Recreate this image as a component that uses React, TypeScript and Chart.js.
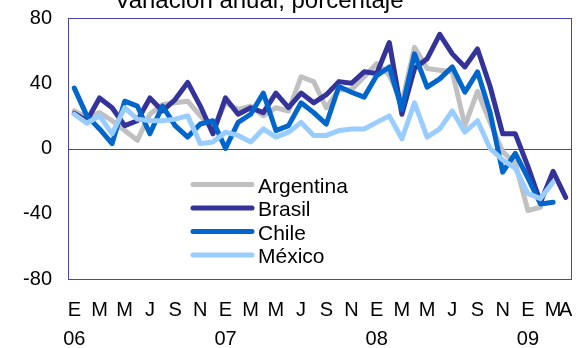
import React, { useEffect, useRef } from "react";
import { Chart, registerables } from "chart.js";

Chart.register(...registerables);

const monthLabels = [
  "E", "", "M", "", "M", "", "J", "", "S", "", "N", "",
  "E", "", "M", "", "M", "", "J", "", "S", "", "N", "",
  "E", "", "M", "", "M", "", "J", "", "S", "", "N", "",
  "E", "", "M", "A",
];
const yearLabels = [
  "06", "", "", "", "", "", "", "", "", "", "", "",
  "07", "", "", "", "", "", "", "", "", "", "", "",
  "08", "", "", "", "", "", "", "", "", "", "", "",
  "09", "", "", "",
];

const seriesNames = ["Argentina", "Brasil", "Chile", "México"];

const argentina = [
  23, 19, 22, 17, 11, 5, 21, 27, 28, 29, 20, 12,
  28, 24, 26, 20, 25, 23, 44, 41, 25, 36, 36, 44,
  52, 45, 28, 62, 49, 48, 47, 14, 35, 16, -2, -9,
  -38, -36, null, null,
];
const brasil = [
  21.5, 17, 31, 25, 14, 17, 31, 23, 30, 40.5, 26, 9,
  31, 21, 25, 22, 34, 25, 34, 28, 33, 41, 40, 47,
  46, 65, 21, 49, 55, 70, 58, 50, 61, 38, 9, 9,
  -11, -33, -14, -30,
];
const chile = [
  37, 20, 12, 3, 29, 26, 9, 26, 14, 7, 15, 17,
  0, 16, 21, 34, 11, 14, 28, 22, 15, 38, 34.5, 31.5,
  44.7, 50, 24, 58, 37.6, 42.7, 50, 34.5, 47, 22, -14.5, -3,
  -18, -34, -33, null,
];
const mexico = [
  21, 15.5, 20, 9, 25, 18, 17, 17, 18, 20, 3, 4,
  10, 8, 4, 12, 7, 10, 16, 8, 8, 11, 12, 12,
  16, 20, 6, 28, 7, 12, 23, 10, 17, 0, -7, -12,
  -27.6, -30.7, -20.6, null,
];

const yTicks = [-80, -40, 0, 40, 80];
const titleText = "Variación anual, porcentaje";

const colors = ["#C0C0C0", "#333399", "#0066CC", "#99CCFF"];
const frameColor = "#4646A6";
const FONT = "'Liberation Sans', Arial, sans-serif";

const decorPlugin = {
  id: "decor",
  beforeDatasetsDraw(chart: any) {
    const { ctx, chartArea, scales } = chart;
    const { left, right, top, bottom } = chartArea;
    ctx.save();
    ctx.strokeStyle = frameColor;
    ctx.lineWidth = 1;
    const y0 = Math.round(scales.y.getPixelForValue(0)) + 0.5;
    ctx.beginPath();
    ctx.moveTo(left, y0);
    ctx.lineTo(right, y0);
    ctx.stroke();
    ctx.strokeRect(Math.round(left) + 0.5, Math.round(top) + 0.5, Math.round(right - left) - 1, Math.round(bottom - top));
    ctx.restore();
  },
  afterDraw(chart: any) {
    const { ctx } = chart;
    ctx.save();
    ctx.fillStyle = "#000";
    ctx.font = `24px ${FONT}`;
    ctx.textAlign = "center";
    ctx.textBaseline = "alphabetic";
    ctx.fillText(titleText, 259, 8);

    const ds = chart.data.datasets;
    const x0 = 193;
    const x1 = 252;
    const yStart = 184.5;
    const step = 23.5;
    ctx.font = `21px ${FONT}`;
    ctx.textAlign = "left";
    ds.forEach((d: any, i: number) => {
      const y = yStart + i * step;
      ctx.strokeStyle = d.borderColor;
      ctx.lineWidth = 5;
      ctx.lineCap = "round";
      ctx.beginPath();
      ctx.moveTo(x0, y);
      ctx.lineTo(x1, y);
      ctx.stroke();
      ctx.fillStyle = "#000";
      ctx.fillText(d.label, 258, y + 8);
    });
    ctx.restore();
  },
};

export default function App() {
  const canvasRef = useRef<HTMLCanvasElement | null>(null);

  useEffect(() => {
    document.body.style.margin = "0";
    const canvas = canvasRef.current;
    if (!canvas) return;
    const labels = monthLabels.map((m, i) => (yearLabels[i] ? [m, yearLabels[i]] : m));
    const seriesData = [argentina, brasil, chile, mexico];
    const chart = new Chart(canvas, {
      type: "line",
      data: {
        labels,
        datasets: seriesData.map((d, i) => ({
          label: seriesNames[i],
          data: d,
          borderColor: colors[i],
          backgroundColor: colors[i],
          borderWidth: 5,
          pointRadius: 0,
          pointHoverRadius: 0,
          tension: 0,
          fill: false,
          spanGaps: false,
          borderJoinStyle: "round" as const,
          borderCapStyle: "round" as const,
          order: 4 - i,
        })),
      },
      options: {
        responsive: false,
        animation: false,
        layout: { padding: { top: 18, right: 13, left: 0, bottom: 0 } },
        plugins: {
          legend: { display: false },
          title: { display: false },
          tooltip: { enabled: false },
        },
        scales: {
          x: {
            type: "category",
            offset: true,
            grid: { display: false, drawTicks: false },
            border: { display: false },
            ticks: {
              autoSkip: false,
              maxRotation: 0,
              minRotation: 0,
              padding: 17,
              color: "#000",
              font: { family: FONT, size: 20, lineHeight: "29px" },
            },
            afterFit(scale: any) {
              scale.height = 69;
              scale.paddingLeft = 0;
              scale.paddingRight = 0;
            },
          },
          y: {
            min: -80,
            max: 80,
            afterBuildTicks(scale: any) {
              scale.ticks = yTicks.map((v) => ({ value: v }));
            },
            grid: { display: false, drawTicks: false },
            border: { display: false },
            ticks: {
              padding: 16,
              color: "#000",
              font: { family: FONT, size: 20 },
            },
            afterFit(scale: any) {
              scale.width = 68;
              scale.paddingTop = 0;
              scale.paddingBottom = 0;
            },
          },
        },
      },
      plugins: [decorPlugin],
    });
    return () => chart.destroy();
  }, []);

  return (
    <div style={{ width: 585, height: 348 }}>
      <canvas ref={canvasRef} width={585} height={348} style={{ display: "block" }} />
    </div>
  );
}
